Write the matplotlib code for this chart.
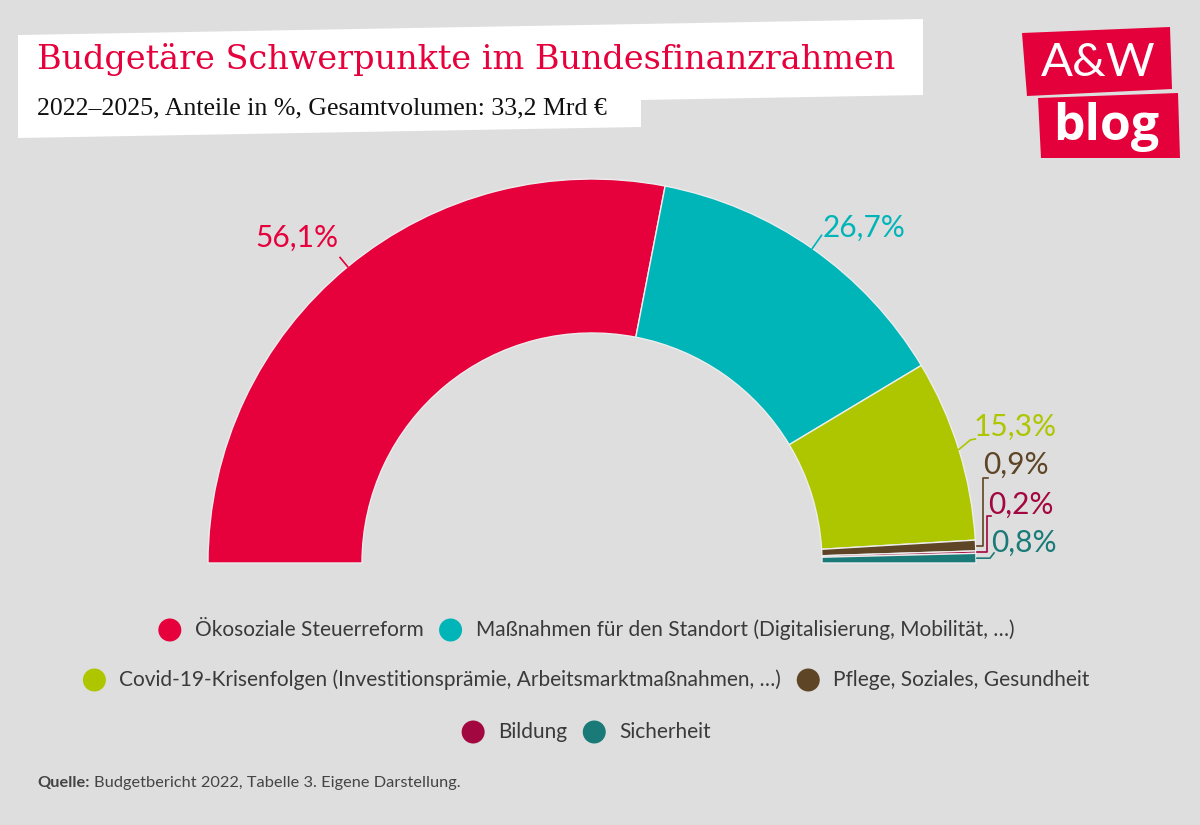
import numpy as np
import matplotlib
matplotlib.use("Agg")
import matplotlib.pyplot as plt
from matplotlib.patches import Polygon, Circle

# data
categories = [
    "Ökosoziale Steuerreform",
    "Maßnahmen für den Standort (Digitalisierung, Mobilität, …)",
    "Covid-19-Krisenfolgen (Investitionsprämie, Arbeitsmarktmaßnahmen, …)",
    "Pflege, Soziales, Gesundheit",
    "Bildung",
    "Sicherheit",
]
shares = [56.1, 26.7, 15.3, 0.9, 0.2, 0.8]
labels = ["56,1%", "26,7%", "15,3%", "0,9%", "0,2%", "0,8%"]
colors = ["#E6003C", "#00B5B8", "#AEC600", "#5E4526", "#A3073F", "#1A7A78"]
legend_rows = [[0, 1], [2, 3], [4, 5]]

BG = "#DEDEDE"
W, H = 1200, 825
SANS = ["Lato", "DejaVu Sans"]


def Y(py):
    # pixel row (from top) -> data y (from bottom)
    return H - py


fig = plt.figure(figsize=(12, 8.25), dpi=100, facecolor=BG)
ax = fig.add_axes([0, 0, 1, 1])
ax.set_facecolor(BG)

cx, cy, R, r_in = 592, Y(563), 384, 230
total = sum(shares)
wedges, _ = ax.pie(
    shares + [total], colors=colors + ["none"], startangle=180,
    counterclock=False, radius=R, center=(cx, cy),
    wedgeprops=dict(width=R - r_in, edgecolor="#EDEDED", linewidth=1.0))
wedges[-1].set_edgecolor("none")
ax.set_xlim(0, W)
ax.set_ylim(0, H)
ax.set_aspect("equal")
ax.axis("off")

# header box
ax.add_patch(Polygon([(18, Y(35)), (923, Y(19)), (923, Y(95)), (641, Y(100)),
                      (641, Y(127)), (18, Y(138))],
                     closed=True, facecolor="white", edgecolor="none"))
ax.text(37, Y(69), "Budgetäre Schwerpunkte im Bundesfinanzrahmen",
        fontsize=24.1, family="DejaVu Serif", color="#E6003C", va="baseline")
ax.text(37, Y(114), "2022–2025, Anteile in %, Gesamtvolumen: 33,2 Mrd €",
        fontsize=18.6, family="Liberation Serif", color="#111111", va="baseline")

# logo
ax.add_patch(Polygon([(1022, Y(33)), (1170, Y(27)), (1172, Y(89)), (1027, Y(96))],
                     facecolor="#E4003A", edgecolor="none"))
ax.add_patch(Polygon([(1038, Y(98)), (1178, Y(93)), (1180, Y(158)), (1041, Y(158))],
                     facecolor="#E4003A", edgecolor="none"))
ax.text(1098, Y(63), "A&W", fontsize=34, family=SANS, fontweight="normal",
        color="white", ha="center", va="center")
ax.text(1106, Y(127), "blog", fontsize=36, family=["Open Sans", "DejaVu Sans"],
        fontweight="bold", color="white", ha="center", va="center")

# value labels
edges = np.cumsum([0] + shares)
mid = [180 - (edges[i] + edges[i + 1]) / 2 / total * 180 for i in range(len(shares))]


def outer(deg, rr=R):
    a = np.radians(deg)
    return cx + rr * np.cos(a), cy + rr * np.sin(a)


lab_kw = dict(fontsize=21.5, family=SANS)
# big slices: short radial leader
x0, y0 = outer(mid[0]); x1, y1 = outer(mid[0], R + 12)
ax.plot([x0, x1], [y0, y1], color=colors[0], lw=1.2)
ax.text(x1 - 2, y1 + 6, labels[0], color=colors[0], ha="right", va="bottom", **lab_kw)

x0, y0 = outer(mid[1]); x1, y1 = outer(mid[1], R + 16)
ax.plot([x0, x1], [y0, y1], color=colors[1], lw=1.2)
ax.text(x1 + 1, y1 - 6, labels[1], color=colors[1], ha="left", va="bottom", **lab_kw)

x0, y0 = outer(mid[2]); x1, y1 = outer(mid[2], R + 12)
ax.plot([x0, x1, x1 + 5], [y0, y1 + 6, y1 + 7], color=colors[2], lw=1.2)
ax.text(x1 + 3, Y(427), labels[2], color=colors[2], ha="left", va="center", **lab_kw)

# small slices: brackets
x0, y0 = outer(mid[3])
ax.plot([x0 + 1, 983, 983, 988], [y0, y0, Y(478), Y(478)], color=colors[3], lw=1.2)
ax.text(983, Y(465), labels[3], color=colors[3], ha="left", va="center", **lab_kw)

x0, y0 = outer(mid[4])
ax.plot([x0 + 1, 987, 987, 991], [y0, y0, Y(516), Y(516)], color=colors[4], lw=1.2)
ax.text(988, Y(505), labels[4], color=colors[4], ha="left", va="center", **lab_kw)

x0, y0 = outer(mid[5])
ax.plot([x0 + 1, 990, 994], [y0, y0, Y(553)], color=colors[5], lw=1.2)
ax.text(991, Y(543), labels[5], color=colors[5], ha="left", va="center", **lab_kw)

# legend, rows centred
fig.canvas.draw()
renderer = fig.canvas.get_renderer()
row_y = [630, 680, 732]
leg_kw = dict(fontsize=15.0, family=SANS, color="#3A3A3A", va="center")
for row, py in zip(legend_rows, row_y):
    items = []
    for i in row:
        t = ax.text(0, Y(py), categories[i], **leg_kw)
        w = t.get_window_extent(renderer).width
        items.append((i, t, w))
    gap_m, gap_n = 25, 27
    total_w = sum(gap_m + w for _, _, w in items) + gap_n * (len(items) - 1) + 12
    x = 586 - total_w / 2 + 12
    for i, t, w in items:
        ax.add_patch(Circle((x, Y(py)), 11.5, facecolor=colors[i], edgecolor="none"))
        t.set_x(x + gap_m)
        x += gap_m + w + gap_n

# source
ax.text(37, Y(787), "Quelle:", fontsize=11.8, family=SANS, fontweight="bold",
        color="#444444", va="baseline")
ax.text(94, Y(787), "Budgetbericht 2022, Tabelle 3. Eigene Darstellung.",
        fontsize=11.8, family=SANS, color="#444444", va="baseline")

fig.savefig("out.png", dpi=100, facecolor=BG)
